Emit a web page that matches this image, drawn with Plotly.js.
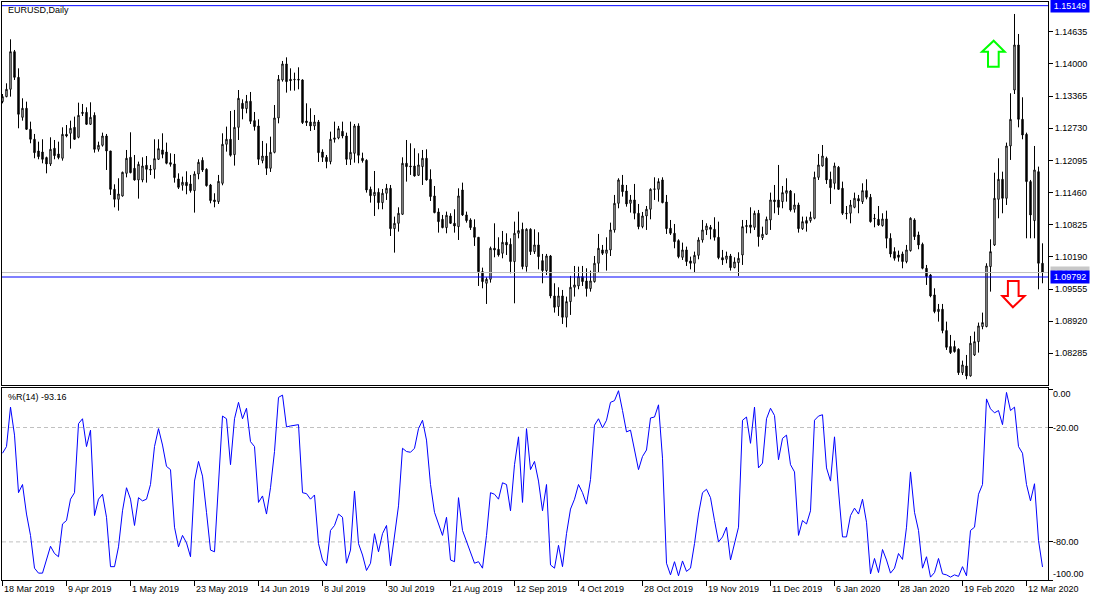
<!DOCTYPE html>
<html>
<head>
<meta charset="utf-8">
<script src="https://cdn.plot.ly/plotly-3.0.1.min.js"></script>
<style>
html,body{margin:0;padding:0;background:#fff;}
#chart{width:1100px;height:600px;}
</style>
</head>
<body>
<div id="chart"></div>
<script>
// ---------------- data (EURUSD, Daily) ----------------
const symbolTitle = 'EURUSD,Daily';

const open = [
1.13254,1.13353,1.13498,1.14241,1.13734,1.12945,1.13123,1.12708,1.12511,1.12280,
1.12260,1.12149,1.12024,1.12333,1.12221,1.12136,1.12609,1.12629,1.12747,1.12550,
1.13043,1.13043,1.12807,1.12984,1.12313,1.12392,1.12576,1.12280,1.11523,1.11326,
1.11392,1.11839,1.12155,1.11938,1.11708,1.11708,1.11997,1.11918,1.11918,1.12116,
1.12300,1.12260,1.12050,1.12024,1.11728,1.11603,1.11662,1.11629,1.11497,1.11826,
1.12096,1.11918,1.11609,1.11313,1.11280,1.11642,1.12412,1.12511,1.12208,1.12747,
1.13221,1.13116,1.13261,1.12879,1.12774,1.12089,1.12181,1.11938,1.12254,1.12932,
1.13682,1.13998,1.13695,1.13695,1.13695,1.13682,1.12872,1.12853,1.12774,1.12853,
1.12260,1.12155,1.12070,1.12511,1.12537,1.12668,1.12576,1.12116,1.12234,1.12774,
1.12136,1.12096,1.11523,1.11398,1.11464,1.11260,1.11445,1.11543,1.10747,1.10852,
1.11030,1.12037,1.11984,1.11984,1.11800,1.11971,1.12136,1.11721,1.11392,1.11076,
1.10931,1.10767,1.10997,1.10852,1.10786,1.11510,1.11017,1.10918,1.10773,1.10576,
1.09898,1.09668,1.09747,1.10359,1.10339,1.10260,1.10477,1.10438,1.10096,1.10655,
1.10734,1.09997,1.10734,1.10293,1.10425,1.10115,1.09918,1.10207,1.09418,1.09207,
1.09418,1.08997,1.09306,1.09589,1.09615,1.09800,1.09714,1.09563,1.09701,1.10063,
1.10326,1.10260,1.10326,1.10721,1.11247,1.11609,1.11490,1.11247,1.11313,1.11050,
1.10786,1.10997,1.11129,1.11523,1.11523,1.11708,1.11273,1.10754,1.10655,1.10510,
1.10181,1.10326,1.10109,1.10063,1.10220,1.10523,1.10721,1.10773,1.10734,1.10576,
1.10174,1.10142,1.10207,1.09977,1.10076,1.10227,1.10786,1.10819,1.10773,1.11050,
1.10569,1.10635,1.10918,1.11313,1.11313,1.11280,1.11445,1.11490,1.11129,1.11214,
1.10747,1.10905,1.10905,1.10951,1.11760,1.11984,1.12136,1.11721,1.11642,1.11958,
1.11543,1.11050,1.11050,1.11168,1.11339,1.11280,1.11497,1.11366,1.10951,1.10931,
1.10806,1.10938,1.10556,1.10293,1.10227,1.10247,1.10096,1.10313,1.10918,1.10622,
1.10438,1.09964,1.09832,1.09438,1.09109,1.09155,1.08734,1.08418,1.08418,1.08365,
1.07904,1.08036,1.07839,1.08253,1.08516,1.08813,1.08813,1.09997,1.10425,1.11326,
1.11721,1.11346,1.12379,1.13484,1.14373,1.12905,1.12609,1.11675,1.10905,1.11872,
1.10063];

const high = [
1.13405,1.13616,1.14485,1.14274,1.13912,1.13320,1.13254,1.12859,1.12616,1.12464,
1.12511,1.12168,1.12550,1.12497,1.12464,1.12747,1.12793,1.12879,1.12958,1.13234,
1.13208,1.13142,1.13241,1.13043,1.12464,1.12642,1.12616,1.12280,1.11622,1.11741,
1.11872,1.12300,1.12649,1.12201,1.12070,1.12155,1.12181,1.12004,1.12511,1.12511,
1.12629,1.12445,1.12234,1.12221,1.11839,1.11774,1.11879,1.11807,1.11879,1.12116,
1.12155,1.11938,1.11629,1.11445,1.11807,1.12629,1.12761,1.13070,1.13090,1.13484,
1.13300,1.13386,1.13445,1.13050,1.12905,1.12478,1.12431,1.12563,1.13188,1.13780,
1.14057,1.14129,1.13912,1.13827,1.13932,1.13695,1.13221,1.13123,1.12991,1.12892,
1.12313,1.12201,1.12662,1.12859,1.12774,1.12859,1.12642,1.12859,1.12813,1.12826,
1.12247,1.12116,1.11576,1.11885,1.11543,1.11530,1.11629,1.11609,1.10984,1.11168,
1.12155,1.12497,1.12431,1.12333,1.12234,1.12300,1.12313,1.11918,1.11589,1.11149,
1.11017,1.11083,1.11050,1.11129,1.11543,1.11655,1.11083,1.10951,1.10931,1.10576,
1.09977,1.09786,1.10392,1.10852,1.10576,1.10701,1.10655,1.10556,1.10885,1.11083,
1.10865,1.10754,1.10754,1.10734,1.10675,1.10247,1.10247,1.10227,1.09668,1.09589,
1.09536,1.09405,1.09813,1.10010,1.09997,1.10010,1.09964,1.09918,1.10207,1.10642,
1.10425,1.10576,1.10865,1.11412,1.11741,1.11807,1.11609,1.11412,1.11629,1.11234,
1.11076,1.11194,1.11543,1.11760,1.11741,1.11760,1.11412,1.10918,1.10839,1.10536,
1.10471,1.10392,1.10194,1.10293,1.10576,1.10918,1.10852,1.10819,1.10971,1.10885,
1.10326,1.10293,1.10247,1.10181,1.10280,1.10918,1.10918,1.11168,1.11102,1.11116,
1.10786,1.10984,1.11458,1.11609,1.12004,1.11589,1.11741,1.11510,1.11445,1.11260,
1.10984,1.10984,1.11083,1.11872,1.12221,1.12398,1.12168,1.11872,1.12050,1.11984,
1.11675,1.11194,1.11313,1.11458,1.11412,1.11642,1.11721,1.11431,1.11037,1.11194,
1.11050,1.11102,1.10655,1.10379,1.10313,1.10293,1.10425,1.10971,1.10951,1.10688,
1.10471,1.10030,1.09852,1.09569,1.09260,1.09260,1.08911,1.08648,1.08536,1.08385,
1.08141,1.08253,1.08628,1.08714,1.08892,1.09089,1.10063,1.10536,1.11852,1.12136,
1.11872,1.12445,1.13419,1.14985,1.14590,1.13340,1.12642,1.11708,1.12379,1.11971,
1.10457];

const low = [
1.13221,1.13340,1.13353,1.13682,1.12728,1.12879,1.12695,1.12432,1.12136,1.12116,
1.12037,1.11839,1.11984,1.12116,1.12116,1.12089,1.12550,1.12326,1.12497,1.12530,
1.12971,1.12793,1.12793,1.12247,1.12267,1.12366,1.11905,1.11412,1.11168,1.11102,
1.11379,1.11760,1.11839,1.11695,1.11339,1.11662,1.11655,1.11806,1.11734,1.12103,
1.12136,1.12017,1.11971,1.11655,1.11530,1.11497,1.11425,1.11458,1.11063,1.11721,
1.11866,1.11576,1.11247,1.11168,1.11234,1.11603,1.12267,1.12168,1.11991,1.12497,
1.12905,1.13024,1.12813,1.12682,1.12004,1.12037,1.11807,1.11866,1.12234,1.12826,
1.13649,1.13432,1.13471,1.13471,1.13498,1.12813,1.12774,1.12675,1.12695,1.12063,
1.12063,1.11938,1.12017,1.12445,1.12511,1.12530,1.12004,1.12004,1.12050,1.12037,
1.12050,1.11458,1.11260,1.10997,1.11129,1.11129,1.11313,1.10602,1.10273,1.10688,
1.11017,1.11675,1.11807,1.11774,1.11787,1.11609,1.11695,1.11293,1.11050,1.10668,
1.10754,1.10655,1.10839,1.10668,1.10523,1.10997,1.10865,1.10721,1.10405,1.09615,
1.09569,1.09260,1.09681,1.10181,1.10194,1.10161,1.10227,1.09865,1.09273,1.10556,
1.09944,1.09898,1.10227,1.10247,1.09944,1.09668,1.09832,1.09372,1.09089,1.09023,
1.08865,1.08799,1.09043,1.09405,1.09550,1.09615,1.09405,1.09503,1.09681,1.09878,
1.10227,1.09918,1.10207,1.10668,1.11149,1.11379,1.11181,1.11063,1.10931,1.10734,
1.10754,1.10721,1.10931,1.11313,1.11280,1.11247,1.10642,1.10622,1.10359,1.10161,
1.10128,1.10010,1.09944,1.09878,1.10142,1.10471,1.10622,1.10536,1.10510,1.10142,
1.10030,1.10063,1.09918,1.09964,1.09813,1.10030,1.10655,1.10655,1.10721,1.10392,
1.10523,1.10622,1.10721,1.11050,1.11017,1.11149,1.11280,1.11083,1.11063,1.10668,
1.10721,1.10688,1.10865,1.10931,1.11708,1.11971,1.11629,1.11234,1.11523,1.11510,
1.11017,1.10931,1.10852,1.11149,1.11050,1.11234,1.11326,1.10865,1.10773,1.10800,
1.10786,1.10359,1.10181,1.10115,1.10096,1.09964,1.10063,1.10293,1.10523,1.10339,
1.09944,1.09635,1.09392,1.09076,1.08911,1.08681,1.08352,1.08273,1.08299,1.07858,
1.07858,1.07773,1.07825,1.08233,1.08299,1.08760,1.08799,1.09503,1.10405,1.10951,
1.11050,1.11214,1.12103,1.13405,1.12747,1.12511,1.10556,1.10556,1.10556,1.09549,
1.09668];

const close = [
1.13353,1.13498,1.14241,1.13734,1.13004,1.13123,1.12708,1.12511,1.12247,1.12168,
1.12116,1.12024,1.12313,1.12188,1.12149,1.12609,1.12576,1.12728,1.12511,1.12984,
1.13024,1.12807,1.12945,1.12313,1.12392,1.12576,1.12280,1.11523,1.11326,1.11431,
1.11859,1.12136,1.11852,1.11708,1.12017,1.11984,1.11918,1.11905,1.12129,1.12326,
1.12214,1.12037,1.12017,1.11754,1.11563,1.11662,1.11596,1.11497,1.11826,1.12057,
1.11905,1.11596,1.11300,1.11280,1.11681,1.12412,1.12511,1.12195,1.12747,1.13320,
1.13116,1.13261,1.12866,1.12761,1.12116,1.12181,1.11938,1.12254,1.12932,1.13695,
1.13998,1.13649,1.13669,1.13688,1.13682,1.12840,1.12840,1.12774,1.12853,1.12247,
1.12155,1.12070,1.12511,1.12537,1.12721,1.12576,1.12116,1.12254,1.12774,1.12195,
1.12089,1.11510,1.11398,1.11464,1.11260,1.11445,1.11543,1.10747,1.10852,1.11050,
1.12037,1.11971,1.11971,1.11787,1.12004,1.12136,1.11708,1.11379,1.11063,1.10885,
1.10767,1.11010,1.10852,1.10799,1.11392,1.11017,1.10905,1.10767,1.10576,1.09898,
1.09701,1.09747,1.10359,1.10326,1.10227,1.10477,1.10425,1.10096,1.10655,1.10708,
1.09997,1.10734,1.10293,1.10425,1.10194,1.09918,1.10207,1.09418,1.09194,1.09418,
1.08997,1.09306,1.09589,1.09635,1.09800,1.09701,1.09563,1.09714,1.10063,1.10359,
1.10260,1.10326,1.10721,1.11247,1.11708,1.11477,1.11234,1.11313,1.11050,1.10786,
1.10997,1.11129,1.11523,1.11530,1.11675,1.11260,1.10747,1.10655,1.10490,1.10194,
1.10326,1.10096,1.10063,1.10220,1.10523,1.10721,1.10800,1.10734,1.10576,1.10174,
1.10128,1.10207,1.09977,1.10089,1.10161,1.10786,1.10806,1.10773,1.11050,1.10589,
1.10635,1.10931,1.11313,1.11280,1.11168,1.11458,1.11497,1.11116,1.11214,1.10747,
1.10885,1.10852,1.10971,1.11760,1.12004,1.12181,1.11708,1.11556,1.11984,1.11523,
1.11050,1.11043,1.11214,1.11346,1.11293,1.11497,1.11366,1.10885,1.10944,1.10819,
1.10938,1.10556,1.10247,1.10161,1.10181,1.10096,1.10326,1.10951,1.10589,1.10425,
1.09964,1.09800,1.09418,1.09109,1.09155,1.08734,1.08404,1.08299,1.08319,1.07904,
1.08056,1.07839,1.08484,1.08516,1.08826,1.08892,1.10010,1.10293,1.11346,1.11721,
1.11346,1.12379,1.12905,1.14373,1.12905,1.12596,1.11675,1.11017,1.11905,1.10063,
1.09880];

// Williams %R(14)
const williamsR = [
-33.5,-30.0,-9.3,-24.0,-54.2,-49.9,-65.4,-76.6,-93.8,-96.4,
-96.4,-89.5,-82.3,-86.1,-87.8,-70.6,-68.8,-57.6,-54.2,-18.0,
-15.4,-30.0,-21.4,-66.2,-57.6,-55.0,-67.1,-93.0,-93.0,-82.6,
-63.7,-51.6,-57.6,-71.4,-56.8,-58.5,-57.6,-49.9,-30.0,-20.6,
-29.2,-40.4,-42.1,-72.3,-82.6,-76.6,-80.5,-87.8,-48.1,-37.8,
-45.5,-64.5,-84.3,-85.2,-50.7,-14.0,-15.4,-39.5,-15.4,-6.8,
-15.4,-9.9,-27.4,-30.0,-59.3,-55.9,-65.4,-51.6,-32.6,-4.2,
-3.0,-19.7,-19.2,-18.8,-18.5,-54.2,-54.7,-57.6,-55.4,-80.9,
-89.5,-92.6,-74.0,-71.4,-65.4,-67.1,-91.2,-84.3,-53.3,-80.9,
-86.9,-95.0,-91.2,-75.7,-85.2,-75.7,-71.4,-92.6,-75.7,-61.1,
-30.9,-32.6,-33.0,-30.9,-20.6,-16.2,-26.6,-49.9,-64.5,-70.6,
-76.6,-67.1,-89.5,-90.4,-56.8,-74.0,-80.0,-86.1,-91.2,-90.4,
-93.8,-76.6,-54.2,-55.0,-57.6,-49.0,-49.9,-63.7,-39.5,-24.9,
-59.3,-20.6,-42.1,-37.8,-48.1,-63.7,-49.9,-92.1,-93.8,-81.8,
-93.0,-75.7,-62.8,-57.6,-49.9,-54.2,-60.2,-47.3,-18.8,-15.4,
-20.2,-16.2,-6.8,-5.9,-0.7,-11.1,-22.3,-21.4,-32.6,-42.1,
-35.2,-31.8,-15.0,-14.5,-8.1,-36.1,-91.2,-97.3,-90.4,-97.8,
-90.0,-95.5,-93.8,-80.9,-65.4,-54.2,-52.4,-56.8,-68.8,-80.0,
-77.4,-72.3,-89.5,-80.9,-72.3,-16.2,-14.5,-28.3,-9.3,-41.2,
-38.7,-15.4,-9.9,-13.7,-36.9,-25.7,-24.0,-39.5,-43.3,-76.6,
-68.8,-70.6,-63.7,-16.2,-14.0,-13.3,-41.2,-48.1,-24.9,-53.3,
-77.4,-77.4,-66.2,-62.3,-65.4,-57.6,-69.7,-96.8,-88.7,-96.1,
-84.0,-89.5,-96.4,-93.8,-86.1,-89.2,-72.3,-43.3,-64.5,-74.0,
-93.8,-87.8,-98.5,-96.1,-88.7,-96.8,-97.3,-98.5,-97.3,-98.1,
-93.0,-97.8,-74.0,-72.3,-55.0,-49.9,-5.0,-10.2,-12.3,-11.1,
-18.5,-1.6,-11.1,-9.3,-30.0,-33.5,-49.9,-58.5,-49.5,-79.2,
-93.16];

const priceTicks = [1.08285,1.08920,1.09555,1.10190,1.10825,1.11460,1.12095,1.12730,1.13365,1.14000,1.14635];
const wrTicks = [0,-20,-80,-100];
const wrLevels = [-20,-80];
const dateTickBars = [0,16,32,48,64,80,96,112,128,144,160,176,192,208,224,240,256];
const dateTickLabels = ['18 Mar 2019','9 Apr 2019','1 May 2019','23 May 2019','14 Jun 2019','8 Jul 2019',
  '30 Jul 2019','21 Aug 2019','12 Sep 2019','4 Oct 2019','28 Oct 2019','19 Nov 2019','11 Dec 2019',
  '6 Jan 2020','28 Jan 2020','19 Feb 2020','12 Mar 2020'];

const topLinePrice = 1.15149;   // horizontal line object
const bidPrice = 1.09792;       // current bid
const lastClosePrice = 1.09880; // last close marker
const arrowUp = {bar: 247.8, price: 1.14457};
const arrowDown = {bar: 252.6, price: 1.09194};

// ---------------- layout ----------------
const W = 1100, H = 600;
const plotL = 2, plotR = 1048;
const priceTop = 2, priceBot = 385;
const indTop = 388, indBot = 580;
const FONT = 'Liberation Sans, Arial, sans-serif';

const idx = close.map((_, i) => i);
const xRange = [-0.125, -0.125 + (plotR - plotL) / 4];
// price scale: 5065 px per 1.0 price unit, 1.14635 at y=31.7
const pxPerUnit = 5065;
const yRange = [1.14635 - (priceBot - 31.7) / pxPerUnit, 1.14635 + (31.7 - priceTop) / pxPerUnit];
// %R scale: 1.9333 px per unit, 0 at y=386.6
const wrRange = [-100, (indTop - 386.6) / 1.9333];

const traces = [
  {
    type: 'candlestick', x: idx, open: open, high: high, low: low, close: close,
    xaxis: 'x', yaxis: 'y', whiskerwidth: 0, hoverinfo: 'skip',
    increasing: {line: {color: '#000000', width: 1}, fillcolor: '#ffffff'},
    decreasing: {line: {color: '#000000', width: 1}, fillcolor: '#000000'}
  },
  {
    type: 'scatter', mode: 'lines', x: idx, y: williamsR, xaxis: 'x2', yaxis: 'y2',
    line: {color: '#0000ff', width: 1}, hoverinfo: 'skip'
  }
];

const shapes = [];
const fx = v => v / W;
wrLevels.forEach(v => shapes.push({type: 'line', xref: 'paper', yref: 'y2', x0: fx(plotL), x1: fx(plotR), y0: v, y1: v,
  line: {color: '#c0c0c0', width: 1, dash: '4px,3px'}, layer: 'below'}));
shapes.push({type: 'line', xref: 'paper', yref: 'y', x0: fx(plotL), x1: fx(plotR), y0: topLinePrice, y1: topLinePrice, line: {color: '#0000ff', width: 1}});
shapes.push({type: 'line', xref: 'paper', yref: 'y', x0: fx(plotL), x1: fx(plotR), y0: lastClosePrice, y1: lastClosePrice, line: {color: '#c0c0c0', width: 1}});
shapes.push({type: 'line', xref: 'paper', yref: 'y', x0: fx(plotL), x1: fx(plotR), y0: bidPrice, y1: bidPrice, line: {color: '#0000ff', width: 1}});
shapes.push({type: 'path', xref: 'x', yref: 'y', xsizemode: 'pixel', ysizemode: 'pixel',
  xanchor: arrowUp.bar, yanchor: arrowUp.price,
  path: 'M0,0 L11,-11 L5,-11 L5,-26 L-5.7,-26 L-5.7,-11 L-11.7,-11 Z',
  line: {color: '#00ff00', width: 2}, fillcolor: '#ffffff'});
shapes.push({type: 'path', xref: 'x', yref: 'y', xsizemode: 'pixel', ysizemode: 'pixel',
  xanchor: arrowDown.bar, yanchor: arrowDown.price,
  path: 'M0,0 L11.7,11.3 L5.7,11.3 L5.7,26.3 L-5,26.3 L-5,11.3 L-10.6,11.3 Z',
  line: {color: '#ff0000', width: 2}, fillcolor: '#ffffff'});

const annotations = [];
const txt = (o) => Object.assign({showarrow: false, font: {family: FONT, size: 9, color: '#000'}}, o);
annotations.push(txt({xref: 'paper', yref: 'paper', x: fx(6), y: (H - 9.7) / H, xanchor: 'left', yanchor: 'middle', text: symbolTitle}));
annotations.push(txt({xref: 'paper', yref: 'paper', x: fx(6), y: (H - 397) / H, xanchor: 'left', yanchor: 'middle',
  text: '%R(14) ' + williamsR[williamsR.length - 1].toFixed(2)}));
dateTickBars.forEach((b, i) => annotations.push(txt({xref: 'x2', yref: 'paper', x: b, y: (H - 589) / H,
  xanchor: 'left', yanchor: 'middle', xshift: -1, text: dateTickLabels[i]})));
const wrShift = {'0': -5, '-20': 0, '-80': 0, '-100': 6.3};
wrTicks.forEach(v => annotations.push(txt({xref: 'paper', yref: 'y2', x: fx(1051), y: v, xanchor: 'left', yanchor: 'middle',
  yshift: wrShift[String(v)], text: v.toFixed(2)})));
// highlighted price labels
annotations.push(txt({xref: 'paper', yref: 'y', x: fx(1049.5), y: topLinePrice, xanchor: 'left', yanchor: 'middle',
  text: topLinePrice.toFixed(5), bgcolor: '#0000ff', borderpad: 1, width: 36, height: 10, font: {family: FONT, size: 9, color: '#ffffff'}}));
annotations.push(txt({xref: 'paper', yref: 'y', x: fx(1049.5), y: lastClosePrice, xanchor: 'left', yanchor: 'middle',
  text: lastClosePrice.toFixed(5), bgcolor: '#c8c8c8', borderpad: 1, width: 36, height: 10, font: {family: FONT, size: 9, color: '#ffffff'}}));
annotations.push(txt({xref: 'paper', yref: 'y', x: fx(1049.5), y: bidPrice, xanchor: 'left', yanchor: 'middle',
  text: bidPrice.toFixed(5), bgcolor: '#0000ff', borderpad: 1, width: 36, height: 10, font: {family: FONT, size: 9, color: '#ffffff'}}));

const axisCommon = {showgrid: false, zeroline: false, showline: true, mirror: true, linecolor: '#000', linewidth: 1, fixedrange: true};

const layout = {
  width: W, height: H, margin: {l: 0, r: 0, t: 0, b: 0},
  paper_bgcolor: '#ffffff', plot_bgcolor: '#ffffff', showlegend: false, hovermode: false,
  font: {family: FONT, size: 9, color: '#000'},
  boxgap: 0.5,
  xaxis: Object.assign({}, axisCommon, {domain: [fx(plotL), fx(plotR)], range: xRange, anchor: 'y',
    showticklabels: false, ticks: '', rangeslider: {visible: false}}),
  yaxis: Object.assign({}, axisCommon, {domain: [(H - priceBot) / H, (H - priceTop) / H], range: yRange, anchor: 'x',
    side: 'right', ticks: 'outside', ticklen: 4, tickcolor: '#000', tickvals: priceTicks,
    ticktext: priceTicks.map(v => v.toFixed(5)), tickfont: {family: FONT, size: 9, color: '#000'}}),
  xaxis2: Object.assign({}, axisCommon, {domain: [fx(plotL), fx(plotR)], range: xRange, anchor: 'y2',
    ticks: 'outside', ticklen: 5, tickcolor: '#000', tickvals: dateTickBars, showticklabels: false}),
  yaxis2: Object.assign({}, axisCommon, {domain: [(H - indBot) / H, (H - indTop) / H], range: wrRange, anchor: 'x2',
    side: 'right', ticks: 'outside', ticklen: 4, tickcolor: '#000', tickvals: wrTicks, showticklabels: false}),
  shapes: shapes,
  annotations: annotations
};

Plotly.newPlot('chart', traces, layout, {staticPlot: true, displayModeBar: false});
</script>
</body>
</html>
